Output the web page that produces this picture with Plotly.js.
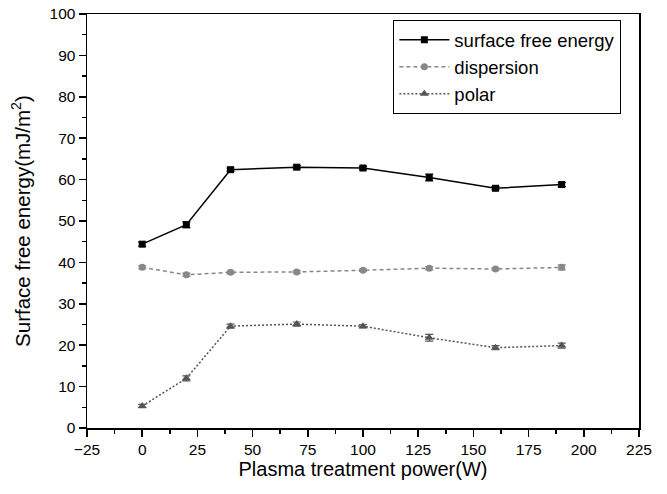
<!DOCTYPE html>
<html><head><meta charset="utf-8">
<script src="https://cdn.plot.ly/plotly-3.0.1.min.js"></script>
<style>body{margin:0;background:#fff}#chart{width:667px;height:494px}</style>
</head><body><div id="chart"></div>
<script>
const power = [0, 20, 40, 70, 100, 130, 160, 190];
const surfaceFreeEnergy = [44.4, 49.1, 62.4, 63.0, 62.8, 60.5, 57.9, 58.8];
const surfaceErr = [0.5, 0.7, 0.4, 0.4, 0.4, 0.8, 0.4, 0.5];
const dispersion = [38.8, 37.0, 37.6, 37.7, 38.1, 38.6, 38.4, 38.8];
const dispersionErr = [0.4, 0.4, 0.3, 0.3, 0.3, 0.4, 0.3, 0.6];
const polar = [5.3, 12.0, 24.6, 25.1, 24.6, 21.8, 19.4, 19.9];
const polarErr = [0.4, 0.6, 0.5, 0.5, 0.4, 0.8, 0.5, 0.6];

const traces = [
  {x: power, y: surfaceFreeEnergy, name: 'surface free energy', mode: 'lines+markers',
   line: {color: '#000', width: 1.5, dash: 'solid'},
   marker: {symbol: 'square', size: 7, color: '#000'},
   error_y: {type: 'data', array: surfaceErr, color: '#000', thickness: 1.2, width: 4}},
  {x: power, y: dispersion, name: 'dispersion', mode: 'lines+markers',
   line: {color: '#888', width: 1.5, dash: '4px,3px'},
   marker: {symbol: 'circle', size: 7, color: '#888'},
   error_y: {type: 'data', array: dispersionErr, color: '#888', thickness: 1.2, width: 4}},
  {x: power, y: polar, name: 'polar', mode: 'lines+markers',
   line: {color: '#555', width: 1.5, dash: '2px,2px'},
   marker: {symbol: 'triangle-up', size: 8, color: '#555'},
   error_y: {type: 'data', array: polarErr, color: '#555', thickness: 1.2, width: 4}}
];

const font = {family: 'Liberation Sans, Arial, sans-serif', color: '#000'};
const layout = {
  width: 667, height: 494,
  margin: {l: 87, r: 28, t: 14, b: 66},
  paper_bgcolor: '#fff', plot_bgcolor: '#fff',
  font: Object.assign({size: 15.5}, font),
  showlegend: true,
  legend: {x: 0.555, y: 0.985, xanchor: 'left', yanchor: 'top',
    bordercolor: '#000', borderwidth: 1, bgcolor: '#fff',
    font: Object.assign({size: 18.5}, font), tracegroupgap: 0, itemwidth: 50},
  xaxis: {
    range: [-25, 225], tickvals: [-25,0,25,50,75,100,125,150,175,200,225],
    showgrid: false, zeroline: false, showline: true, linecolor: '#000', linewidth: 1.5,
    mirror: true, ticks: 'outside', ticklen: 7, tickwidth: 1.5, tickcolor: '#000',
    minor: {ticks: 'outside', ticklen: 4, tickwidth: 1.5, tickcolor: '#000', dtick: 12.5, tick0: -25, showgrid: false},
    tickfont: Object.assign({size: 15.5}, font),
    title: {text: 'Plasma treatment power(W)', font: Object.assign({size: 20}, font), standoff: 5}
  },
  yaxis: {
    range: [0, 100], dtick: 10, tick0: 0,
    showgrid: false, zeroline: false, showline: true, linecolor: '#000', linewidth: 1.5,
    mirror: true, ticks: 'outside', ticklen: 7, tickwidth: 1.5, tickcolor: '#000',
    minor: {ticks: 'outside', ticklen: 4, tickwidth: 1.5, tickcolor: '#000', dtick: 5, showgrid: false},
    tickfont: Object.assign({size: 15.5}, font),
    title: {text: 'Surface free energy(mJ/m<sup>2</sup>)', font: Object.assign({size: 20.5}, font), standoff: 13}
  }
};
Plotly.newPlot('chart', traces, layout, {displayModeBar: false, staticPlot: true});
</script></body></html>
